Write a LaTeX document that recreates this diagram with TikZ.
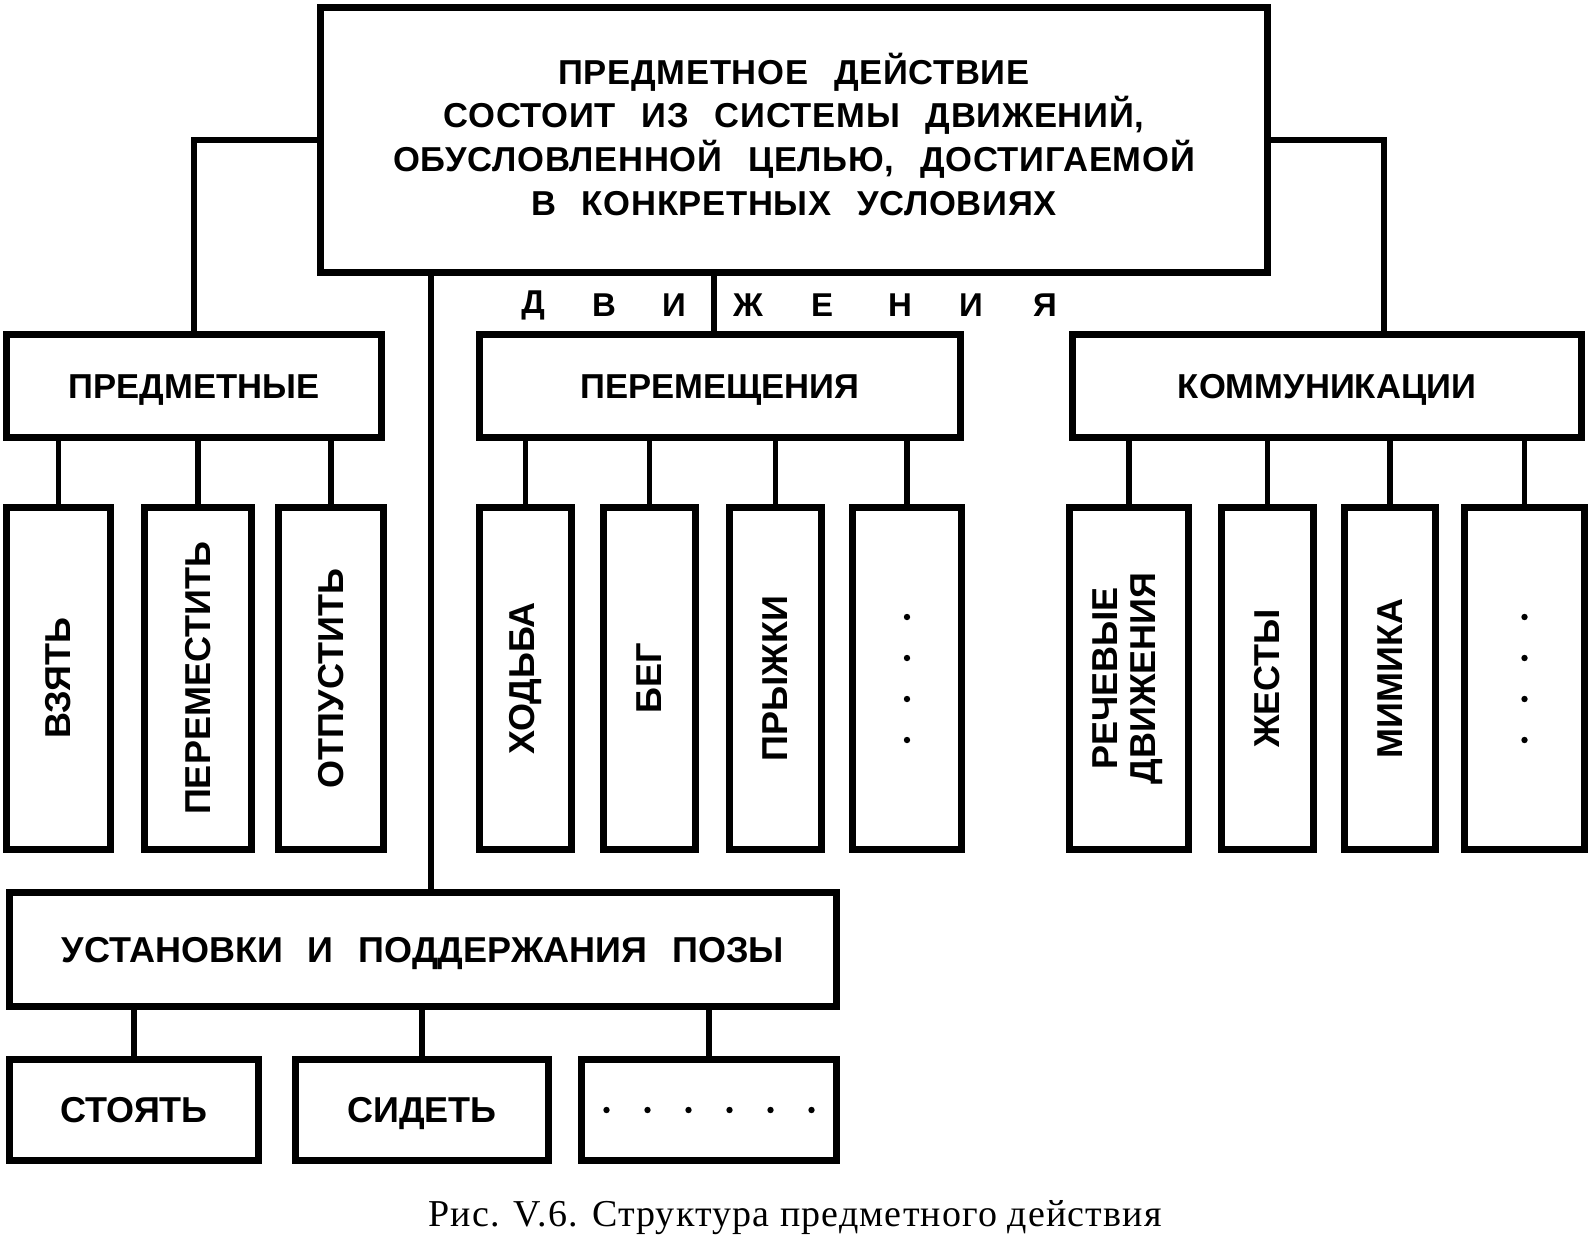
\documentclass[tikz,border=0pt]{standalone}
\usepackage{fontspec}
\usepackage{graphicx}
\setmainfont{Liberation Sans}
\newfontfamily\boxfont{Liberation Sans}[WordSpace=2.5]
\newfontfamily\topfont{Liberation Sans}[WordSpace=2.5,LetterSpace=2]
\newfontfamily\capfont{Liberation Serif}[LetterSpace=3]

\tikzset{
  box/.style={draw, line width=3.3pt, inner sep=0pt, align=center,
    font=\boxfont\bfseries\fontsize{17.3}{21.8}\selectfont},
  oneline/.style={box, text height=12.5pt, text depth=0pt},
  vbox/.style={box, minimum height=171pt,
    font=\boxfont\bfseries\fontsize{18}{19}\selectfont},
  lowbox/.style={oneline, minimum height=50.5pt,
    font=\boxfont\bfseries\fontsize{18}{18}\selectfont},
  conn/.style={line width=2.6pt},
  tick/.style={inner sep=0pt, font=\boxfont\bfseries\fontsize{16.5}{16.5}\selectfont},
}

\begin{document}
\begin{tikzpicture}[x=0.5pt,y=-0.5pt]
    \useasboundingbox (0,0) rectangle (1591,1238);

    % top box
    \node[box, minimum width=473.5pt, minimum height=132.5pt,
      font=\topfont\bfseries\fontsize{17.3}{21.8}\selectfont] (act) at (794,140)
      {ПРЕДМЕТНОЕ ДЕЙСТВИЕ\\СОСТОИТ ИЗ СИСТЕМЫ ДВИЖЕНИЙ,\\ОБУСЛОВЛЕННОЙ ЦЕЛЬЮ, ДОСТИГАЕМОЙ\\В КОНКРЕТНЫХ УСЛОВИЯХ\rule[-6pt]{0pt}{6pt}};

    % kinds of movement
    \node[oneline, minimum width=187.5pt, minimum height=51.5pt] (pred) at (194,386) {ПРЕДМЕТНЫЕ};
    \node[oneline, minimum width=240.5pt, minimum height=51.5pt] (perem) at (720,386) {ПЕРЕМЕЩЕНИЯ};
    \node[oneline, minimum width=254.5pt, minimum height=51.5pt] (komm) at (1327,386) {КОММУНИКАЦИИ};

    \foreach \ch/\x [count=\i] in {Д/533,В/604,И/674,Ж/748,Е/822,Н/900,И/971,Я/1045}
        \node[tick] (mv\i) at (\x,305) {\ch};

    \draw[conn] (act.west) -| (pred.north);
    \draw[conn] (act.east) -| ([xshift=28.5pt]komm.north);
    \draw[conn] ([xshift=-3pt]perem.north) -- ([xshift=-3pt]perem.north |- act.south);

    % vertical boxes
    \foreach \n/\x/\w/\t in {vzyat/58.5/52pt/ВЗЯТЬ, peremest/198/53.5pt/ПЕРЕМЕСТИТЬ,
        otpust/331/52.5pt/ОТПУСТИТЬ, hodba/525.5/46pt/ХОДЬБА, beg/649.5/46pt/БЕГ,
        pryzh/775.5/46pt/ПРЫЖКИ, peremdots/907/54.5pt/{},
        zhest/1267.5/46pt/ЖЕСТЫ, mimika/1390/45.5pt/МИМИКА, kommdots/1524.5/60pt/{}}
        \node[vbox, minimum width=\w] (\n) at (\x,678.5) {\rotatebox{90}{\t}};
    \node[vbox, minimum width=59.5pt] (rech) at (1129,678.5)
        {\rotatebox{90}{\begin{tabular}{@{}c@{}}РЕЧЕВЫЕ\\ДВИЖЕНИЯ\end{tabular}}};

    \foreach \n in {vzyat,peremest,otpust}
        \draw[conn] (\n.north) -- (\n.north |- pred.south);
    \foreach \n in {hodba,beg,pryzh,peremdots}
        \draw[conn] (\n.north) -- (\n.north |- perem.south);
    \foreach \n in {rech,zhest,mimika,kommdots}
        \draw[conn] (\n.north) -- (\n.north |- komm.south);

    \foreach \n in {peremdots,kommdots}
        \foreach \k in {-1.5,-0.5,0.5,1.5}
            \fill ([yshift=\k*20.5pt]\n.center) circle (1.6pt);

    % posture
    \node[oneline, minimum width=413.5pt, minimum height=57pt,
      font=\boxfont\bfseries\fontsize{18}{18}\selectfont] (post) at (423,949.5)
      {УСТАНОВКИ И ПОДДЕРЖАНИЯ ПОЗЫ};
    \draw[conn] ([xshift=4pt]post.north) -- ([xshift=4pt]post.north |- act.south);

    \node[lowbox, minimum width=124.5pt] (stoyat) at (134,1110) {СТОЯТЬ};
    \node[lowbox, minimum width=126.5pt] (sidet) at (422,1110) {СИДЕТЬ};
    \node[lowbox, minimum width=127.5pt] (posedots) at (709,1110) {};
    \foreach \k in {-2.5,-1.5,...,2.5}
        \fill ([xshift=\k*20.5pt]posedots.center) circle (1.6pt);

    \foreach \n in {stoyat,sidet,posedots}
        \draw[conn] (\n.north) -- (\n.north |- post.south);

    % caption
    \node[inner sep=0pt, font=\capfont\fontsize{19}{19}\selectfont] (caption) at (795,1218)
        {Рис. V.6. Структура предметного действия};
\end{tikzpicture}
\end{document}
